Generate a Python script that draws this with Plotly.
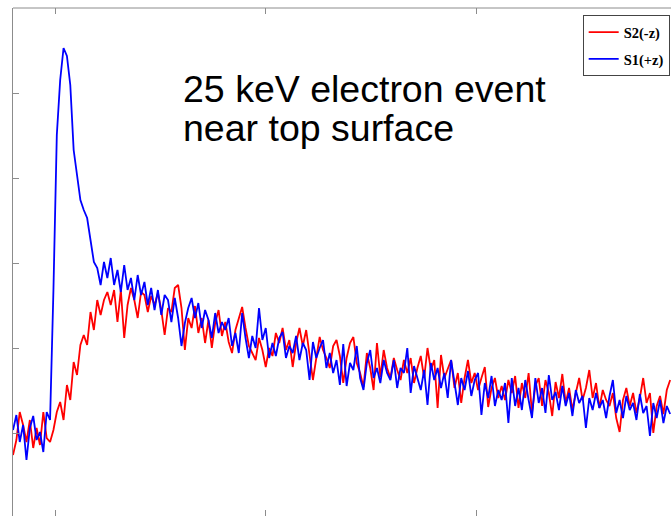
import numpy as np
import plotly.graph_objects as go

# Sampling: one point every 8 ns
dt = 8

# S2(-z) channel (red), arbitrary signal units
s2 = [63, 78, 106, 93, 76, 98, 70, 90, 73, 106, 80, 76, 88, 106, 116, 98, 133, 118, 156, 143,
      173, 183, 173, 206, 188, 218, 203, 218, 226, 213, 228, 196, 228, 180, 213, 230, 218, 200, 226, 223,
      206, 222, 213, 225, 208, 183, 210, 206, 230, 233,
      210, 168, 200, 190, 212, 185, 200, 175, 198, 170, 195, 208, 182, 196, 176, 165, 188, 200, 211, 190,
      172, 165, 158, 180, 168, 151, 170, 162, 185, 175, 190, 168, 178, 151, 175, 190, 172, 188, 165, 138,
      160, 181, 168, 160, 150, 172, 178, 162, 135, 160, 175, 181, 155, 145, 131, 165, 150, 128, 175, 141,
      168, 150, 140, 160, 148, 138, 158, 145, 160, 135, 150, 162, 140, 170, 148, 158, 110, 163, 140, 150,
      158, 130, 145, 115, 140, 158, 135, 145, 128, 140, 151, 111, 130, 140, 120, 132, 118, 138, 125, 142,
      110, 135, 120, 145, 105, 132, 140, 112, 138, 125, 102, 136, 120, 144, 115, 130, 108, 125, 140, 118,
      130, 148, 120, 135, 110, 128, 118, 112, 125, 100, 86, 118, 130, 112, 125, 105, 120, 140, 115, 125,
      85, 112, 122, 104, 128, 138]

# S1(+z) channel (blue)
s1 = [88, 103, 76, 93, 58, 90, 102, 78, 86, 66, 106, 98, 228, 383, 438, 470, 462, 433, 368, 340,
      318, 308, 300, 278, 256, 250, 233, 256, 240, 260, 233, 248, 226, 253, 228, 240, 218, 243, 223, 236,
      213, 230, 208, 228, 203, 223, 218, 196, 220, 200,
      172, 195, 210, 220, 200, 215, 190, 208, 198, 180, 205, 185, 196, 188, 200, 172, 185, 165, 205, 180,
      160, 182, 170, 210, 178, 190, 160, 175, 162, 180, 186, 160, 172, 165, 182, 158, 175, 168, 138, 176,
      160, 170, 178, 150, 165, 145, 158, 133, 174, 132, 155, 148, 172, 140, 128, 155, 168, 140, 150, 135,
      158, 145, 138, 158, 130, 150, 145, 170, 125, 152, 140, 128, 148, 113, 155, 138, 150, 130, 145, 120,
      158, 135, 113, 140, 128, 147, 122, 138, 145, 103, 135, 120, 142, 112, 128, 118, 135, 95, 140, 112,
      130, 108, 138, 118, 100, 140, 115, 130, 105, 143, 118, 126, 108, 132, 112, 125, 102, 128, 115, 122,
      90, 120, 108, 125, 110, 118, 100, 122, 138, 105, 118, 100, 122, 108, 115, 98, 124, 105, 112, 82,
      115, 100, 118, 95, 112, 104]

t = np.arange(len(s1)) * dt

x_ticks = [100, 600, 1100]
y_ticks = [85, 170, 255, 340, 425, 510]
title_lines = ["25 keV electron event", "near top surface"]
axis_grey = "#8c8c8c"

fig = go.Figure()
fig.add_trace(go.Scatter(x=t, y=s2, mode="lines", name="S2(-z)", legendgroup="s2",
                         line=dict(color="#ff0000", width=1.8)))
fig.add_trace(go.Scatter(x=t, y=s1, mode="lines", name="S1(+z)", legendgroup="s1",
                         line=dict(color="#0000ff", width=1.8)))

text_font = dict(family="Liberation Sans, Arial, sans-serif", size=37.5, color="black")
annotations = [
    dict(text=line, xref="paper", yref="paper", x=0.256, y=ypos,
         xanchor="left", yanchor="top", align="left", showarrow=False, font=text_font)
    for line, ypos in zip(title_lines, [0.885, 0.809])
]

fig.update_layout(
    width=671, height=516,
    margin=dict(l=13, r=0, t=8, b=0),
    paper_bgcolor="white", plot_bgcolor="white",
    showlegend=True,
    legend=dict(x=0.998, y=0.986, xanchor="right", yanchor="top",
                bgcolor="white", bordercolor="#444444", borderwidth=1,
                tracegroupgap=5,
                font=dict(family="Liberation Serif, Times New Roman, serif", size=14.5,
                          color="black", weight="bold")),
    xaxis=dict(range=[0, 1562], tickvals=x_ticks, showticklabels=False,
               ticks="inside", ticklen=6, tickcolor=axis_grey, mirror="ticks",
               showline=False, showgrid=False, zeroline=False),
    yaxis=dict(range=[2, 510], tickvals=y_ticks, showticklabels=False,
               ticks="inside", ticklen=6, tickcolor=axis_grey,
               showline=True, linecolor=axis_grey, linewidth=1,
               showgrid=False, zeroline=False),
    shapes=[dict(type="line", xref="paper", yref="paper", x0=0, x1=1, y0=1, y1=1,
                 line=dict(color=axis_grey, width=1))],
    annotations=annotations,
)

fig.write_html("out.html")
